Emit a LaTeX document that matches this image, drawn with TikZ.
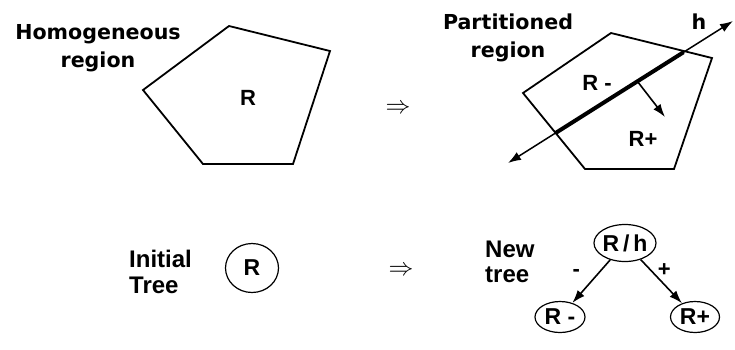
\documentclass[tikz,border=0pt]{standalone}
\usepackage{fontspec}
\setmainfont{Liberation Sans}
\newfontfamily\headfont{DejaVu Sans}
\usetikzlibrary{arrows.meta,calc,positioning,shapes.geometric}
\tikzset{
  regionline/.style={line width=1.8pt, line join=miter},
  hline/.style={{Latex[length=13pt,width=9pt]}-{Latex[length=13pt,width=9pt]},
    line width=1.5pt},
  cutline/.style={line width=4pt},
  splitarrow/.style={-{Latex[length=13pt,width=9pt]}, line width=1.6pt},
  headlabel/.style={align=center, inner sep=0pt,
    font=\headfont\bfseries\fontsize{20.6}{27.5}\selectfont},
  treelabel/.style={align=left, inner sep=0pt,
    font=\bfseries\fontsize{24}{25.5}\selectfont},
  regname/.style={inner sep=0pt, font=\bfseries\fontsize{22}{22}\selectfont},
  edgesign/.style={inner sep=0pt, font=\bfseries\fontsize{22}{22}\selectfont},
  treenode/.style={ellipse, draw, line width=1.2pt, inner sep=0pt,
    inner xsep=-3pt, font=\bfseries\fontsize{23}{23}\selectfont},
  impliesmark/.style={inner sep=0pt, font=\fontsize{24.88}{25}\selectfont}
}
\begin{document}
\begin{tikzpicture}[x=1pt, y=-1pt]
  \useasboundingbox (0,0) rectangle (735,349);

  % homogeneous region
  \node[headlabel] (homlabel) at (98,48) {Homogeneous\\region};
  \coordinate (a1) at (229,26);
  \coordinate (a2) at (330,51);
  \coordinate (a3) at (293,164);
  \coordinate (a4) at (203,164);
  \coordinate (a5) at (143,90);
  \draw[regionline] (a1) -- (a2) -- (a3) -- (a4) -- (a5) -- cycle;
  \node[regname] (rlab) at (248,98) {R};

  \node[impliesmark] (topimp) at (398,109) {$\Rightarrow$};

  % partitioned region
  \node[headlabel] (partlabel) at (508,38) {Partitioned\\region};
  \coordinate (b1) at (611,33);
  \coordinate (b2) at (712,58);
  \coordinate (b3) at (674,169);
  \coordinate (b4) at (585,169);
  \coordinate (b5) at (523,93);
  \draw[regionline] (b1) -- (b2) -- (b3) -- (b4) -- (b5) -- cycle;
  \coordinate (hs) at (508,163);
  \coordinate (he) at (733,21);
  \draw[hline] (hs) -- (he);
  \draw[cutline] ($(hs)!0.21!(he)$) -- ($(hs)!0.78!(he)$);
  \coordinate (nb) at ($(hs)!0.575!(he)$);
  \coordinate (nt) at (665,117);
  \draw[splitarrow] (nb) -- (nt);
  \node[headlabel, anchor=base] (hlab) at (699,29) {h};
  \node[regname] (rminus) at (597,83) {R -};
  \node[regname] (rplus) at (643,139) {R+};

  % trees
  \node[treelabel, anchor=west] (inittree) at (129,272) {Initial\\Tree};
  \node[treenode, minimum width=53pt, minimum height=49pt] (r0) at (252,268)
    {R};
  \node[impliesmark] (botimp) at (401,271) {$\Rightarrow$};
  \node[treelabel, anchor=west] (newtree) at (485,262) {New\\tree};
  \node[treenode, minimum width=62pt, minimum height=37pt] (rh) at (625,243)
    {R\,/\,h};
  \node[treenode, minimum width=50pt, minimum height=31pt] (rm) at (560,317)
    {R -};
  \node[treenode, minimum width=49pt, minimum height=31pt] (rp) at (695,317)
    {R+};
  \draw[splitarrow] (rh) -- node[edgesign, pos=0.3, left=18pt] (minus) {-} (rm);
  \draw[splitarrow] (rh) -- node[edgesign, pos=0.25, right=6pt] (plus) {+} (rp);
\end{tikzpicture}
\end{document}
